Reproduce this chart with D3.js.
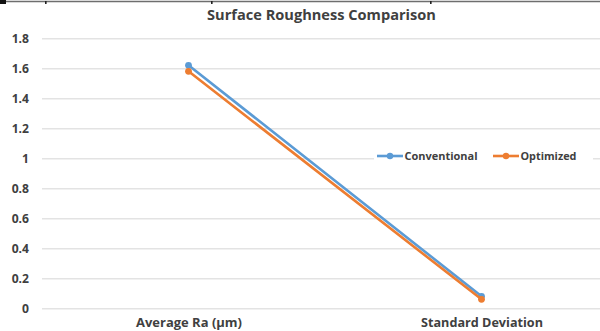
<!DOCTYPE html>
<html>
<head>
<meta charset="utf-8">
<script src="https://cdn.jsdelivr.net/npm/d3@7"></script>
<style>
  html, body { margin: 0; padding: 0; background: #fff; }
  svg { display: block; font-family: "Open Sans", sans-serif; }
</style>
</head>
<body>
<svg id="chart" width="600" height="331"></svg>
<script>
// Surface roughness: conventional vs optimized process
const categories = ["Average Ra (\u00b5m)", "Standard Deviation"];
const conventional = [1.62, 0.08];
const optimized = [1.58, 0.06];
const yTicks = [0, 0.2, 0.4, 0.6, 0.8, 1, 1.2, 1.4, 1.6, 1.8];
const seriesNames = ["Conventional", "Optimized"];
const seriesColors = ["#5B9BD5", "#ED7D31"];

const svg = d3.select("#chart");
const W = 600, H = 331;
const margin = { left: 42, top: 38.3, bottom: 308.3 };
const plotWidth = 586;
const textColor = "#404040";
const font = "'Open Sans', sans-serif";

// scale a text element's font-size so it spans the given width
function fitWidth(sel, width) {
  sel.each(function () {
    const len = this.getComputedTextLength();
    const fs = parseFloat(d3.select(this).attr("font-size"));
    d3.select(this).attr("font-size", (fs * width / len).toFixed(2));
  });
}

const x = d3.scalePoint()
  .domain(categories)
  .range([margin.left, margin.left + plotWidth])
  .padding(0.5);

const y = d3.scaleLinear()
  .domain([0, 1.8])
  .range([margin.bottom, margin.top]);

// frame line along the top edge
svg.append("line")
  .attr("x1", 0).attr("x2", W).attr("y1", 1.5).attr("y2", 1.5)
  .attr("stroke", "#6e6e6e").attr("stroke-width", 1.5);
svg.append("rect").attr("x", 0).attr("y", 0).attr("width", 6).attr("height", 4).attr("fill", "#111");
[45, 211, 430].forEach(px => {
  svg.append("rect").attr("x", px).attr("y", 1).attr("width", 1.6).attr("height", 3).attr("fill", "#222");
});

// title
svg.append("text")
  .attr("x", 207).attr("y", 20)
  .attr("font-family", font)
  .attr("font-size", 14).attr("font-weight", "bold").attr("fill", textColor)
  .text("Surface Roughness Comparison")
  .call(fitWidth, 229);

// gridlines + y axis labels
const yAxis = d3.axisLeft(y)
  .tickValues(yTicks)
  .tickSize(-(W - margin.left))
  .tickPadding(13)
  .tickFormat(d => String(d));

const gy = svg.append("g")
  .attr("transform", `translate(${margin.left},0)`)
  .call(yAxis);
gy.select(".domain").remove();
gy.selectAll(".tick line").attr("stroke", "#e3e3e3").attr("stroke-width", 1.5);
const tickTexts = gy.selectAll(".tick text")
  .attr("font-size", 11).attr("font-weight", "bold").attr("fill", textColor)
  .attr("font-family", font);
// common size from the "1.8" label
const ref = tickTexts.filter(d => d === 1.8).node();
const tickFs = 11 * 17.3 / ref.getComputedTextLength();
tickTexts.attr("font-size", tickFs.toFixed(2));

// category labels
const xAxis = d3.axisBottom(x).tickSize(0).tickPadding(0);
const gx = svg.append("g")
  .attr("transform", `translate(0,${margin.bottom})`)
  .call(xAxis);
gx.select(".domain").remove();
const catWidths = [106, 122];
gx.selectAll(".tick text")
  .attr("dy", null).attr("y", 18.6)
  .attr("font-size", 12).attr("font-weight", "bold").attr("fill", textColor)
  .attr("font-family", font)
  .each(function (d, i) { d3.select(this).call(fitWidth, catWidths[i]); });

// series lines and markers
const series = [conventional, optimized];
const line = d3.line().x((d, i) => x(categories[i])).y(d => y(d));

series.forEach((vals, s) => {
  svg.append("path")
    .datum(vals)
    .attr("d", line)
    .attr("fill", "none")
    .attr("stroke", seriesColors[s])
    .attr("stroke-width", 2.6)
    .attr("stroke-linecap", "round");
  svg.selectAll(null)
    .data(vals)
    .join("circle")
    .attr("cx", (d, i) => x(categories[i]))
    .attr("cy", d => y(d))
    .attr("r", 3.4)
    .attr("fill", seriesColors[s]);
});

// legend
const legend = svg.append("g");
legend.append("rect")
  .attr("x", 374).attr("y", 147).attr("width", 219).attr("height", 18)
  .attr("fill", "#fff");
const legendX = [377, 493];
const legendW = [73, 56];
seriesNames.forEach((name, s) => {
  const g = legend.append("g").attr("transform", `translate(${legendX[s]},156)`);
  g.append("line").attr("x1", 0).attr("x2", 26).attr("y1", 0).attr("y2", 0)
    .attr("stroke", seriesColors[s]).attr("stroke-width", 2.6);
  g.append("circle").attr("cx", 13).attr("cy", 0).attr("r", 3.2).attr("fill", seriesColors[s]);
  g.append("text").attr("x", 27.5).attr("y", 4.3)
    .attr("font-family", font)
    .attr("font-size", 11).attr("font-weight", "bold").attr("fill", textColor)
    .text(name)
    .call(fitWidth, legendW[s]);
});
</script>
</body>
</html>
